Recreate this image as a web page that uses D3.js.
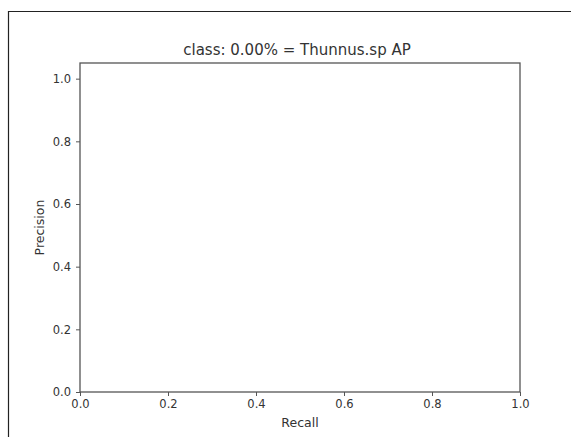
<!DOCTYPE html>
<html>
<head>
<meta charset="utf-8">
<script src="https://cdn.jsdelivr.net/npm/d3@7"></script>
<style>
  body { margin: 0; background: #fff; }
  text { font-family: "DejaVu Sans", sans-serif; fill: #333; }
</style>
</head>
<body>
<div id="chart"></div>
<script>
let xTicks = [0, 0.2, 0.4, 0.6, 0.8, 1.0]
let yTicks = [0, 0.2, 0.4, 0.6, 0.8, 1.0]
let xDomain = [0, 1]
let yDomain = [0, 1.05]
let recall = []
let precision = []
let title = 'class: 0.00% = Thunnus.sp AP'

let margin = { top: 63, left: 80, right: 51, bottom: 45 }
let width = 571 - margin.left - margin.right
let height = 437 - margin.top - margin.bottom

let svg = d3.select('#chart').append('svg')
  .attr('width', 571)
  .attr('height', 437)

// screenshot frame (left + top only)
svg.append('path')
  .attr('d', 'M8.5,437 L8.5,11.5 L571,11.5')
  .attr('fill', 'none')
  .attr('stroke', '#222')
  .attr('stroke-width', 1.2)

let holder = svg.append('g')
  .attr('transform', `translate(${margin.left},${margin.top})`)

let xScale = d3.scaleLinear().domain(xDomain).range([0, width])
let yScale = d3.scaleLinear().domain(yDomain).range([height, 0])

let line = d3.line()
  .x((d, i) => xScale(recall[i]))
  .y(d => yScale(d))

holder.append('path')
  .datum(precision)
  .attr('d', line)
  .attr('fill', 'none')
  .attr('stroke', '#1f77b4')

let xAxis = d3.axisBottom(xScale).tickValues(xTicks).tickFormat(d3.format('.1f')).tickSizeOuter(0).tickSize(4).tickPadding(4)
let yAxis = d3.axisLeft(yScale).tickValues(yTicks).tickFormat(d3.format('.1f')).tickSizeOuter(0).tickSize(4).tickPadding(5)

holder.append('g')
  .attr('transform', `translate(0,${height})`)
  .call(xAxis)
  .call(g => g.select('.domain').remove())

holder.append('g')
  .call(yAxis)
  .call(g => g.select('.domain').remove())

holder.selectAll('.tick line').attr('stroke', '#555')
holder.selectAll('.tick text')
  .attr('font-size', 11.5)
  .style('font-family', '"DejaVu Sans", sans-serif')
  .attr('fill', '#444')

holder.append('rect')
  .attr('x', 0)
  .attr('y', 0)
  .attr('width', width)
  .attr('height', height)
  .attr('fill', 'none')
  .attr('stroke', '#555')
  .attr('stroke-width', 1.3)

holder.append('text')
  .text(title)
  .attr('x', width / 2 - 3)
  .attr('y', -8)
  .attr('text-anchor', 'middle')
  .attr('font-size', 15)

holder.append('text')
  .text('Recall')
  .attr('x', width / 2)
  .attr('y', height + 35)
  .attr('text-anchor', 'middle')
  .attr('font-size', 12.5)

holder.append('text')
  .text('Precision')
  .attr('transform', `translate(${-36},${height / 2}) rotate(-90)`)
  .attr('text-anchor', 'middle')
  .attr('font-size', 12.5)
</script>
</body>
</html>
